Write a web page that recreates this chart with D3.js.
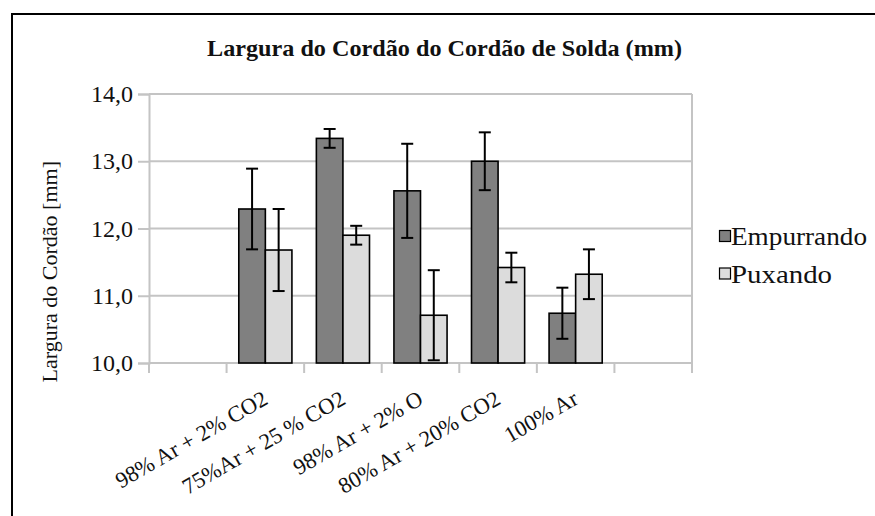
<!DOCTYPE html>
<html>
<head>
<meta charset="utf-8">
<script src="https://cdn.jsdelivr.net/npm/d3@7"></script>
</head>
<body style="margin:0">
<svg id="s" width="875" height="516"></svg>
<script>
// Gas mixtures (x categories)
const categories = ["98% Ar + 2% CO2", "75%Ar + 25 % CO2", "98% Ar + 2% O", "80% Ar + 20% CO2", "100% Ar"];
// Series names
const seriesNames = ["Empurrando", "Puxando"];
// Mean bead width (mm) and its deviation, per series
const empurrando = [12.29, 13.34, 12.56, 13.00, 10.74];
const empurrandoErr = [0.60, 0.14, 0.70, 0.43, 0.38];
const puxando = [11.68, 11.90, 10.71, 11.42, 11.32];
const puxandoErr = [0.61, 0.14, 0.67, 0.22, 0.37];
// Y axis ticks
const yTicks = [10, 11, 12, 13, 14];

const titleText = "Largura do Cordão do Cordão de Solda (mm)";
const yTitle = "Largura do Cordão [mm]";
const fills = ["#808080", "#dcdcdc"];
const textColor = "#111";

const svg = d3.select("#s");
const plot = { left: 149, right: 692, top: 94, bottom: 363 };

function serifText(sel) {
  return sel.style("font-family", "'Liberation Serif'").attr("fill", textColor);
}

// Outer frame
svg.append("rect")
  .attr("x", 12).attr("y", 14)
  .attr("width", 900).attr("height", 560)
  .attr("fill", "none").attr("stroke", "#000").attr("stroke-width", 2);

// Title
svg.append("text")
  .call(serifText)
  .attr("x", 444.5).attr("y", 56)
  .attr("text-anchor", "middle")
  .attr("font-size", 24).attr("font-weight", "bold")
  .attr("textLength", 475).attr("lengthAdjust", "spacingAndGlyphs")
  .text(titleText);

// Scales
const x = d3.scaleBand()
  .domain(categories)
  .range([plot.left, plot.right])
  .paddingInner(0).paddingOuter(1);
const x1 = d3.scaleBand()
  .domain(seriesNames)
  .range([0, x.bandwidth()])
  .paddingInner(0).paddingOuter(0.46);
const y = d3.scaleLinear().domain([10, 14]).range([plot.bottom, plot.top]);

const locale = d3.formatLocale({ decimal: ",", thousands: ".", grouping: [3], currency: ["", ""] });
const fmt = locale.format(".1f");

const gridColor = "#c4c4c4";

// Horizontal grid lines
svg.append("g").selectAll("line").data(yTicks.filter(t => t !== 10)).join("line")
  .attr("x1", plot.left).attr("x2", plot.right)
  .attr("y1", d => y(d)).attr("y2", d => y(d))
  .attr("stroke", gridColor).attr("stroke-width", 2);

// Right edge of plot area
svg.append("line")
  .attr("x1", plot.right).attr("x2", plot.right)
  .attr("y1", plot.top).attr("y2", plot.bottom)
  .attr("stroke", gridColor).attr("stroke-width", 2);

// Y axis
const yAxis = d3.axisLeft(y).tickValues(yTicks).tickFormat(fmt).tickSize(11).tickPadding(5);
const gy = svg.append("g").attr("transform", `translate(${plot.left},0)`).call(yAxis);
gy.attr("font-family", null).attr("font-size", null);
gy.select(".domain").attr("stroke", gridColor).attr("stroke-width", 2);
gy.selectAll(".tick line").attr("stroke", gridColor).attr("stroke-width", 2);
gy.selectAll(".tick text").call(serifText).attr("font-size", 24);

// X axis baseline and ticks at band boundaries
const step = x.step();
const boundaries = [x.range()[0]].concat(categories.map(c => x(c))).concat(categories.map(c => x(c) + step)).concat([x.range()[1]]);
const uniqB = Array.from(new Set(boundaries.map(b => Math.round(b * 100) / 100)));
svg.append("line")
  .attr("x1", plot.left).attr("x2", plot.right)
  .attr("y1", plot.bottom).attr("y2", plot.bottom)
  .attr("stroke", gridColor).attr("stroke-width", 2);
svg.append("g").selectAll("line").data(uniqB).join("line")
  .attr("x1", d => d).attr("x2", d => d)
  .attr("y1", plot.bottom).attr("y2", plot.bottom + 10)
  .attr("stroke", gridColor).attr("stroke-width", 2);

// X labels, rotated
svg.append("g").selectAll("text").data(categories).join("text")
  .call(serifText)
  .attr("transform", d => `translate(${x(d) + x.bandwidth() / 2 + 4},${plot.bottom + 40}) rotate(-30)`)
  .attr("text-anchor", "end")
  .attr("font-size", 22.5)
  .text(d => d);

// Y axis title
svg.append("text")
  .call(serifText)
  .attr("transform", `translate(57,161) rotate(-90)`)
  .attr("text-anchor", "end")
  .attr("font-size", 22)
  .text(yTitle);

// Bars
const seriesData = [
  { name: seriesNames[0], values: empurrando, errs: empurrandoErr, fill: fills[0] },
  { name: seriesNames[1], values: puxando, errs: puxandoErr, fill: fills[1] }
];
const rows = [];
seriesData.forEach(s => categories.forEach((c, i) => rows.push({ cat: c, series: s.name, v: s.values[i], e: s.errs[i], fill: s.fill })));

svg.append("g").selectAll("rect").data(rows).join("rect")
  .attr("x", d => x(d.cat) + x1(d.series))
  .attr("width", x1.bandwidth())
  .attr("y", d => y(d.v))
  .attr("height", d => y(10) - y(d.v))
  .attr("fill", d => d.fill)
  .attr("stroke", "#000").attr("stroke-width", 1.6);

// Error bars
const eb = svg.append("g").attr("stroke", "#000").attr("stroke-width", 2);
rows.forEach(d => {
  const cx = x(d.cat) + x1(d.series) + x1.bandwidth() / 2;
  eb.append("line").attr("x1", cx).attr("x2", cx).attr("y1", y(d.v + d.e)).attr("y2", y(d.v - d.e));
  [d.v + d.e, d.v - d.e].forEach(v => {
    eb.append("line").attr("x1", cx - 6).attr("x2", cx + 6).attr("y1", y(v)).attr("y2", y(v));
  });
});

// Legend
const legendWidths = [136, 101];
const legend = svg.append("g");
seriesData.forEach((s, i) => {
  const ly = 236 + i * 37.5;
  legend.append("rect")
    .attr("x", 719.5).attr("y", ly - 5.5)
    .attr("width", 11).attr("height", 11)
    .attr("fill", s.fill).attr("stroke", "#000").attr("stroke-width", 1.2);
  legend.append("text")
    .call(serifText)
    .attr("x", 731).attr("y", ly + 9)
    .attr("font-size", 25)
    .attr("textLength", legendWidths[i]).attr("lengthAdjust", "spacingAndGlyphs")
    .text(s.name);
});
</script>
</body>
</html>
